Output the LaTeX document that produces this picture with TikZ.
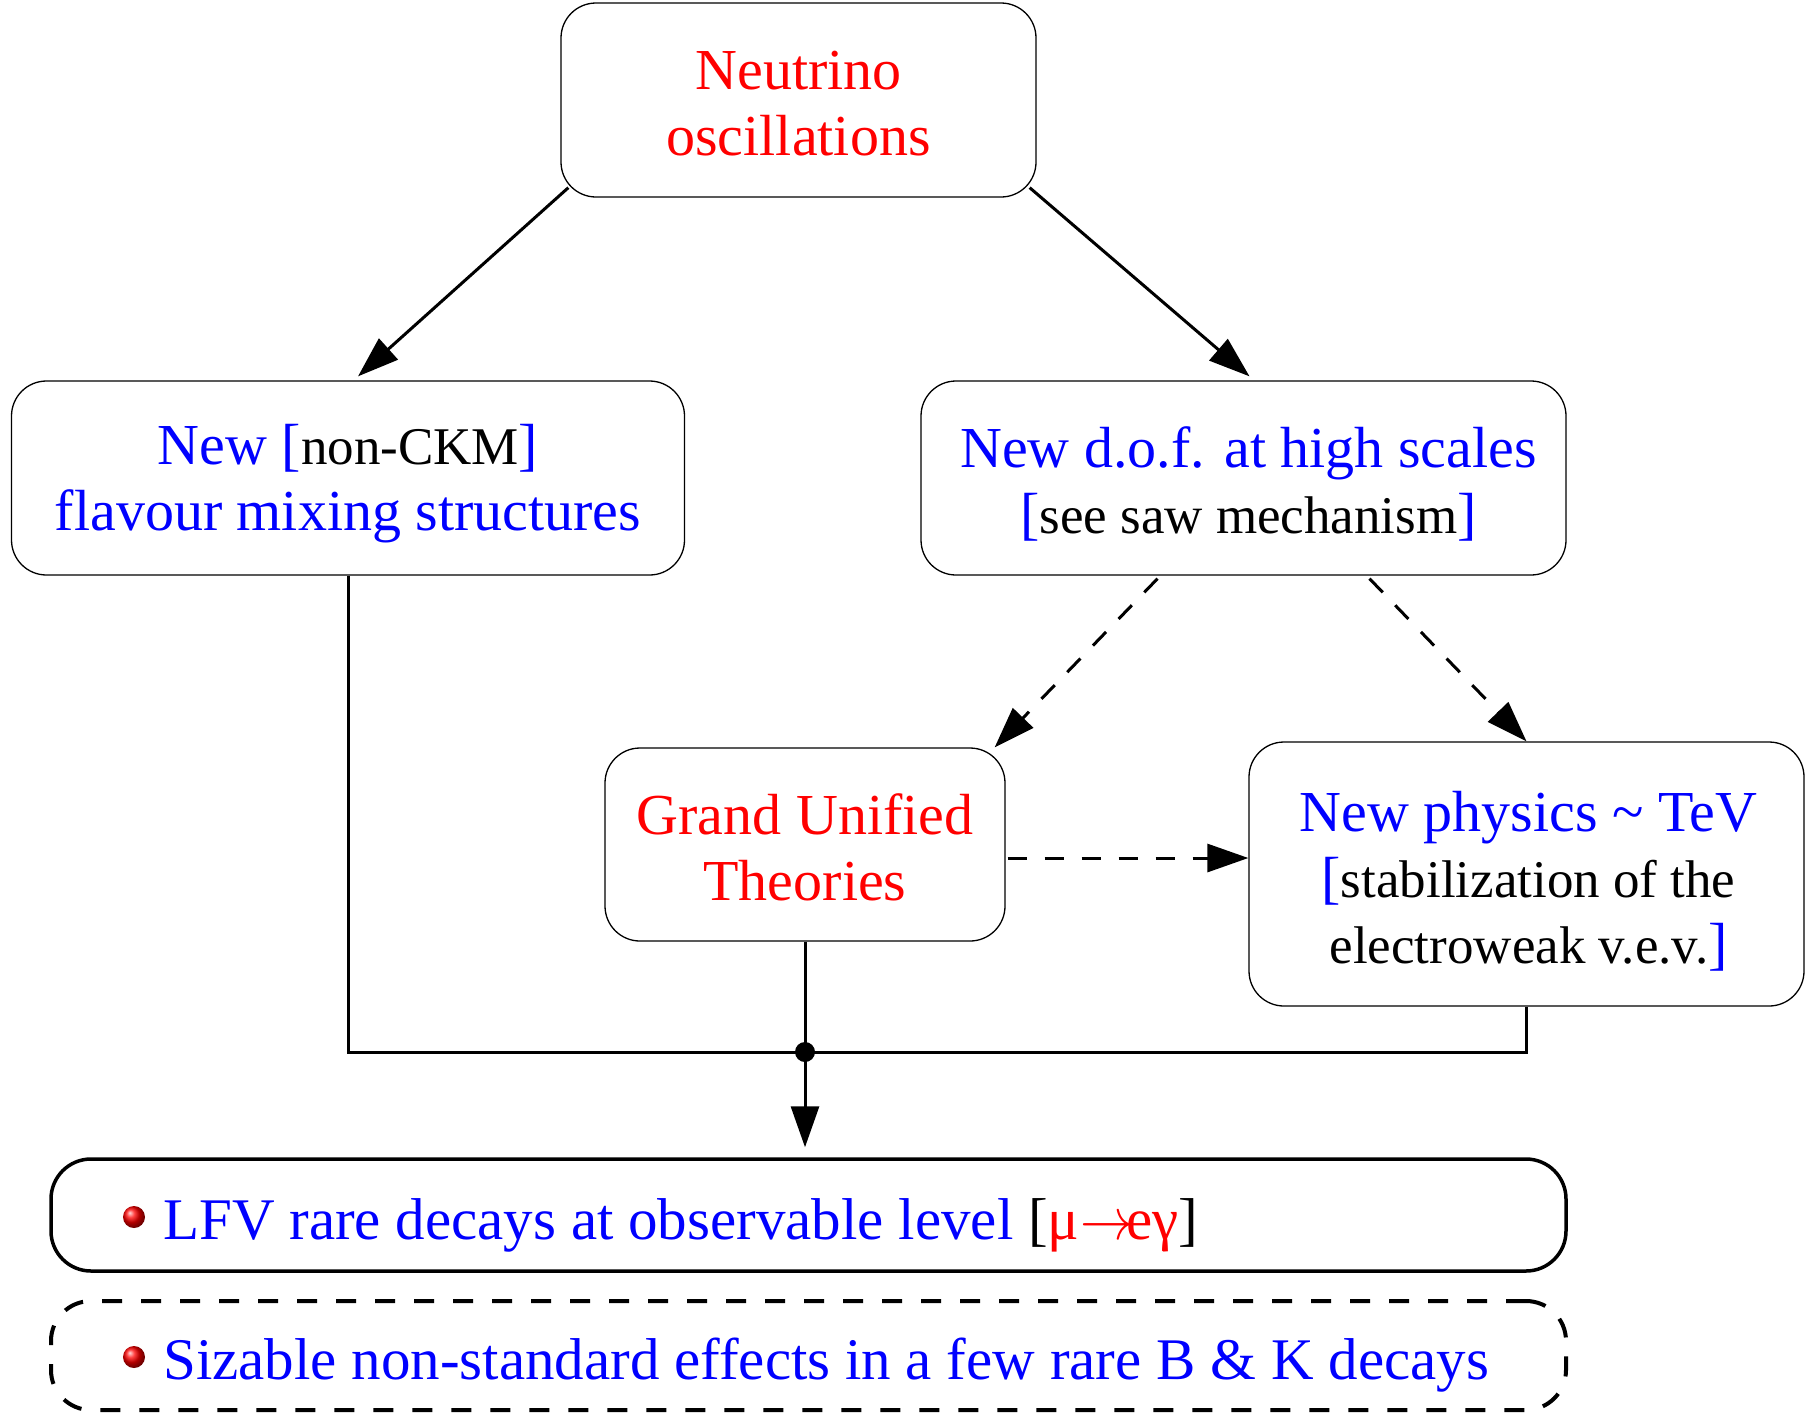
\RequirePackage{fix-cm}
\documentclass[tikz,border=0pt]{standalone}
\usepackage{fontspec}
\setmainfont{Liberation Serif}
\usetikzlibrary{arrows.meta,calc,shadings}
\definecolor{pred}{rgb}{1,0,0}
\definecolor{pblue}{rgb}{0,0,1}
\newcommand\bktxt[1]{{\fontsize{53}{65}\selectfont #1}}
\newcommand\bl[1]{\textcolor{pblue}{#1}}
\begin{document}
\begin{tikzpicture}[x=1pt,y=-1pt,
  box/.style={draw,rounded corners=35pt,line width=1.3pt,inner sep=0pt},
  lbl/.style={align=center,inner sep=0pt,font=\fontsize{58}{66}\selectfont},
  arr/.style={line width=3pt,-{Triangle[length=41pt,width=28pt]}},
  darr/.style={arr,dash pattern=on 19pt off 18pt},
  bul/.style={circle,inner sep=0pt,minimum size=22pt,ball color=red,shading=ball},
  txt/.style={anchor=west,inner sep=0pt,font=\fontsize{59}{66}\selectfont}]
\useasboundingbox (0,0) rectangle (1809,1422);
% boxes
\node[box,minimum width=475pt,minimum height=194pt] (neu) at (798.5,100) {};
\node[box,minimum width=673pt,minimum height=194pt] (left) at (348,478) {};
\node[box,minimum width=645pt,minimum height=194pt] (dof) at (1243.5,478) {};
\node[box,minimum width=400pt,minimum height=193pt] (gut) at (805,844.5) {};
\node[box,minimum width=555pt,minimum height=264pt] (np) at (1526.5,874) {};
\node[draw,rounded corners=40pt,line width=3.5pt,minimum width=1515pt,minimum height=112pt,inner sep=0pt] (lfv) at (808.5,1215) {};
\node[draw,rounded corners=40pt,line width=4pt,dash pattern=on 20pt off 19pt,minimum width=1515pt,minimum height=109pt,inner sep=0pt] (siz) at (808.5,1355.5) {};
% texts
\node[lbl,text=pred] (neut) at ($(neu.center)+(0,4)$) {Neutrino\\oscillations};
\node[lbl] (leftt) at ($(left.center)+(0,6)$) {\bl{New [}\bktxt{non-CKM}\bl{]}\\\bl{flavour mixing structures}};
\node[lbl] (doft) at ($(dof.center)+(5,6)$) {\bl{New d.o.f. at high scales}\\\bl{[}\bktxt{see saw mechanism}\bl{]}};
\node[lbl,text=pred] (gutt) at ($(gut.center)+(0,3)$) {Grand Unified\\Theories};
\node[lbl] (npt) at ($(np.center)+(2,7)$) {\bl{New physics \char`\~{} TeV}\\\bl{[}\bktxt{stabilization of the}\\\bktxt{electroweak v.e.v.}\bl{]}};
\node[bul] (b1) at (134,1217) {};
\node[bul] (b2) at (134,1357) {};
\node[txt] (t1) at (163,1225) {\bl{LFV rare decays at observable level} [\textcolor{pred}{μ\kern0.02em\scalebox{0.9}[1]{$\rightarrow$}\kern-0.12em eγ}]};
\node[txt] (t2) at (163,1365) {\bl{Sizable non-standard effects in a few rare B \& K decays}};
% arrows
\draw[arr] ($(neu.south west)+(8,-10)$) -- ($(left.north)+(10,-4)$);
\draw[arr] ($(neu.south east)+(-7,-10)$) -- ($(dof.north)+(6,-4)$);
\draw[darr] ($(dof.south)+(-86,3)$) -- ($(gut.north east)+(-11,0)$);
\draw[darr] ($(dof.south)+(126,3)$) -- (np.north);
\coordinate (g1) at ($(gut.east)+(2,13.5)$);
\draw[darr] (g1) -- (np.west |- g1);
\coordinate (j) at (gut.south |- 0,1052);
\draw[line width=3pt] (left.south) |- (j);
\draw[line width=3pt] (np.south) |- (j);
\draw[line width=3pt] (gut.south) -- (j);
\draw[arr,shorten >=10pt] (j) -- (lfv.north -| j);
\fill (j) circle (10pt);
\end{tikzpicture}
\end{document}
